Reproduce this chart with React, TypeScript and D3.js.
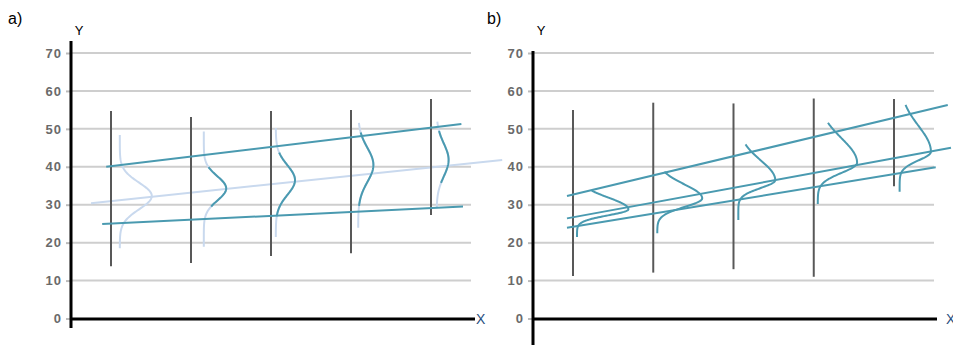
import React, { useEffect, useRef } from 'react';
import * as d3 from 'd3';

const yTicks = [0, 10, 20, 30, 40, 50, 60, 70];
const groups = [1, 2, 3, 4, 5];

// panel a) - vertical data ranges per group
const aRangeTop = [54.7, 53.1, 54.7, 55.0, 57.9];
const aRangeBottom = [13.8, 14.6, 16.5, 17.2, 27.3];
// regression lines [x, y]
const aUpperLine = [[0.94, 40.0], [5.38, 51.3]];
const aLowerLine = [[0.89, 24.9], [5.4, 29.5]];
const aMeanLine = [[0.75, 30.4], [5.89, 41.8]];
// normal densities
const aDensX = [1.11, 2.16, 3.06, 4.09, 5.07];
const aDensMean = [32.3, 34.3, 36.5, 40.5, 41.8];
const aDensSd = [3.5, 3.2, 3.9, 4.5, 4.3];
const aDensPeak = [0.40, 0.28, 0.24, 0.19, 0.15];
const aDensTop = [48.4, 49.3, 50.2, 51.6, 51.9];
const aDensBottom = [18.5, 18.9, 21.5, 23.9, 29.1];
const aHiTop = [null, 40.0, 43.9, 49.2, 49.5];
const aHiBottom = [null, 29.3, 26.8, 29.5, 35.7];

// panel b)
const bRangeTop = [55.0, 56.9, 56.7, 58.0, 57.9];
const bRangeBottom = [11.2, 12.1, 13.0, 11.0, 34.9];
const bTopLine = [[0.925, 32.3], [5.67, 56.3]];
const bMidLine = [[0.925, 26.4], [5.71, 45.0]];
const bLowLine = [[0.925, 23.9], [5.52, 39.9]];
// skewed densities
const bDensX = [1.05, 2.05, 3.06, 4.05, 5.07];
const bDensMode = [28.8, 31.7, 36.5, 41.1, 44.0];
const bDensSdUp = [3.1, 3.65, 5.2, 6.4, 6.75];
const bDensSdLow = [1.6, 2.3, 2.1, 2.7, 2.3];
const bDensPeak = [0.64, 0.56, 0.46, 0.49, 0.39];
const bDensTop = [33.7, 38.7, 45.9, 51.6, 56.3];
const bDensBottom = [21.5, 22.5, 26.0, 30.2, 33.4];

const TEAL = '#4a9ab0';
const PALE = '#c9d9ee';
const FONT = 'Liberation Sans, Arial, sans-serif';

function drawPanel(svg: any, p: any) {
  const x = d3.scaleLinear().domain([1, 5]).range([p.x1, p.x5]);
  const y = d3.scaleLinear().domain([0, 70]).range([318.5, 53]);
  const g = svg.append('g');

  // grid
  g.selectAll('.grid').data(yTicks.filter(t => t > 0)).enter().append('line')
    .attr('x1', p.axisX).attr('x2', p.gridEnd)
    .attr('y1', (d: number) => y(d)).attr('y2', (d: number) => y(d))
    .attr('stroke', '#cecece').attr('stroke-width', 2);

  const line = d3.line<number[]>().x(d => x(d[0])).y(d => y(d[1]));

  // pale mean line
  p.paleLines.forEach((l: number[][]) => {
    g.append('path').attr('d', line(l)).attr('fill', 'none')
      .attr('stroke', PALE).attr('stroke-width', 2);
  });

  // vertical ranges
  g.selectAll('.range').data(groups).enter().append('line')
    .attr('x1', (d: number) => x(d)).attr('x2', (d: number) => x(d))
    .attr('y1', (d: number, i: number) => y(p.rangeTop[i]))
    .attr('y2', (d: number, i: number) => y(p.rangeBottom[i]))
    .attr('stroke', '#585858').attr('stroke-width', 2);

  // densities
  p.densities.forEach((dens: any) => {
    const pts = d3.range(0, 121).map(k => {
      const v = dens.bottom + (dens.top - dens.bottom) * k / 120;
      return [v, dens.f(v)];
    });
    const dl = d3.line<number[]>().x(d => x(dens.x + d[1])).y(d => y(d[0]));
    g.append('path').attr('d', dl(pts)).attr('fill', 'none')
      .attr('stroke', dens.color).attr('stroke-width', 2);
    if (dens.hiTop != null) {
      const hp = pts.filter(d => d[0] >= dens.hiBottom && d[0] <= dens.hiTop);
      g.append('path').attr('d', dl(hp)).attr('fill', 'none')
        .attr('stroke', TEAL).attr('stroke-width', 2);
    }
  });

  // teal regression lines
  p.tealLines.forEach((l: number[][]) => {
    g.append('path').attr('d', line(l)).attr('fill', 'none')
      .attr('stroke', TEAL).attr('stroke-width', 2);
  });

  // y axis ticks
  const ax = g.append('g').attr('transform', 'translate(' + p.axisX + ',0)')
    .call(d3.axisLeft(y).tickValues(yTicks).tickSize(5).tickPadding(4).tickFormat(d3.format('d')));
  ax.select('.domain').remove();
  ax.selectAll('line').attr('stroke', '#bbb').attr('stroke-width', 2);
  ax.selectAll('text').attr('fill', '#6a6a6a').style('font-size', '13px')
    .style('letter-spacing', '1px')
    .style('font-family', FONT).style('font-weight', 'bold');

  // axes
  g.append('line').attr('x1', p.axisX).attr('x2', p.axisX).attr('y1', p.axisTop).attr('y2', p.axisBottom)
    .attr('stroke', '#000').attr('stroke-width', 3);
  g.append('line').attr('x1', p.axisX - 1).attr('x2', p.xAxisEnd).attr('y1', 319).attr('y2', 319)
    .attr('stroke', '#000').attr('stroke-width', 3);

  g.append('text').attr('x', p.axisX + 8).attr('y', 35).attr('text-anchor', 'middle')
    .style('font-family', FONT).style('font-size', '13px').text('Y');
  g.append('text').attr('x', p.xLabelX).attr('y', 324)
    .style('font-family', FONT).style('font-size', '14px')
    .attr('fill', '#2a4f80').text('X');
  g.append('text').attr('x', p.labelX).attr('y', 24)
    .style('font-family', FONT).style('font-size', '16px').text(p.label);
}

export default function App() {
  const ref = useRef<SVGSVGElement>(null);

  useEffect(() => {
    const svg = d3.select(ref.current);
    svg.selectAll('*').remove();

    const normal = (m: number, s: number, pk: number) => (v: number) =>
      pk * Math.exp(-0.5 * ((v - m) / s) * ((v - m) / s));
    const twoPiece = (m: number, su: number, sl: number, pk: number) => (v: number) => {
      const s = v >= m ? su : sl;
      return pk * Math.exp(-0.5 * ((v - m) / s) * ((v - m) / s));
    };

    drawPanel(svg, {
      label: 'a)', labelX: 8,
      axisX: 71, axisTop: 41, axisBottom: 328, gridEnd: 471, xAxisEnd: 475, xLabelX: 476,
      x1: 111, x5: 431,
      rangeTop: aRangeTop, rangeBottom: aRangeBottom,
      paleLines: [aMeanLine],
      tealLines: [aUpperLine, aLowerLine],
      densities: groups.map((gq, i) => ({
        x: aDensX[i], top: aDensTop[i], bottom: aDensBottom[i],
        f: normal(aDensMean[i], aDensSd[i], aDensPeak[i]),
        color: PALE, hiTop: aHiTop[i], hiBottom: aHiBottom[i],
      })),
    });

    drawPanel(svg, {
      label: 'b)', labelX: 487,
      axisX: 533, axisTop: 51, axisBottom: 345, gridEnd: 934, xAxisEnd: 937, xLabelX: 946,
      x1: 573, x5: 894,
      rangeTop: bRangeTop, rangeBottom: bRangeBottom,
      paleLines: [],
      tealLines: [bTopLine, bMidLine, bLowLine],
      densities: groups.map((gq, i) => ({
        x: bDensX[i], top: bDensTop[i], bottom: bDensBottom[i],
        f: twoPiece(bDensMode[i], bDensSdUp[i], bDensSdLow[i], bDensPeak[i]),
        color: TEAL, hiTop: null, hiBottom: null,
      })),
    });
  }, []);

  return (
    <svg ref={ref} width={953} height={345}
      style={{ position: 'absolute', left: 0, top: 0, background: '#fff' }} />
  );
}
